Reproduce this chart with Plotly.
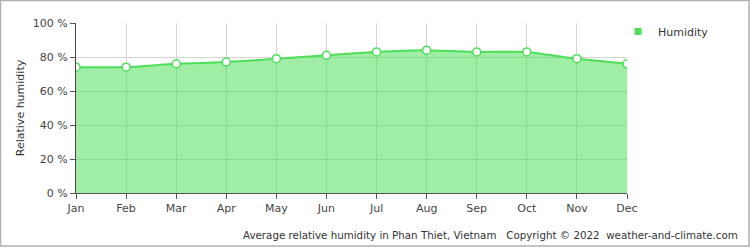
import plotly.graph_objects as go

months = ["Jan", "Feb", "Mar", "Apr", "May", "Jun", "Jul", "Aug", "Sep", "Oct", "Nov", "Dec"]
humidity = [74, 74, 76, 77, 79, 81, 83, 84, 83, 83, 79, 76]
y_ticks = [0, 20, 40, 60, 80, 100]
y_labels = [f"{v} %" for v in y_ticks]

W, H = 750, 247
L, R, T, B = 76, 123, 23, 54
pw, ph = W - L - R, H - T - B

font = dict(family="DejaVu Sans, Verdana, sans-serif", size=10, color="#444")

fig = go.Figure()
fig.add_trace(go.Scatter(
    x=months, y=humidity, name="Humidity",
    mode="lines+markers", fill="tozeroy",
    fillcolor="rgba(76,223,87,0.53)",
    line=dict(color="#4cdf57", width=2, shape="spline", smoothing=0.4),
    marker=dict(size=8, color="white", line=dict(color="#4cdf57", width=1.5)),
    showlegend=False,
))
# legend entry
fig.add_trace(go.Scatter(
    x=[None], y=[None], name="Humidity", mode="markers",
    marker=dict(symbol="square", size=7, color="#4cdf57"),
))

fig.update_layout(
    width=W, height=H,
    margin=dict(l=L, r=R, t=T, b=B),
    paper_bgcolor="white", plot_bgcolor="white",
    font=font,
    showlegend=True,
    legend=dict(x=-9 / pw + 1, y=1 + 6 / ph, xanchor="left", yanchor="top",
                font=dict(size=11, color="#333"), bgcolor="rgba(0,0,0,0)",
                itemwidth=30, tracegroupgap=0),
    xaxis=dict(type="category", range=[0, 11], showgrid=True, gridcolor="#d4d4d4",
               tickmode="array", tickvals=months, ticktext=months,
               ticks="outside", ticklen=5, tickcolor="#555",
               showline=True, linecolor="#555", linewidth=1,
               tickfont=dict(size=11, color="#444"), zeroline=False),
    yaxis=dict(range=[0, 100], tickmode="array", tickvals=y_ticks, ticktext=y_labels,
               showgrid=True, gridcolor="#d4d4d4",
               ticks="outside", ticklen=5, tickcolor="#555",
               showline=True, linecolor="#444", linewidth=1,
               tickfont=dict(size=11, color="#444"), zeroline=False,
               title=dict(text="Relative humidity", font=dict(size=11, color="#333"), standoff=5)),
    shapes=[dict(type="rect", xref="paper", yref="paper",
                 x0=-L / pw + 0.5 / pw, x1=1 + (R - 1) / pw,
                 y0=-B / ph + 1 / ph, y1=1 + (T - 0.5) / ph,
                 line=dict(color="#b0b0b0", width=1.5), fillcolor="rgba(0,0,0,0)", layer="above")],
    annotations=[dict(text="Average relative humidity in Phan Thiet, Vietnam   Copyright © 2022  weather-and-climate.com",
                      xref="paper", yref="paper", x=1 + (R - 10) / pw, y=-42 / ph,
                      xanchor="right", yanchor="middle", showarrow=False,
                      font=dict(size=10.3, color="#333"))],
)

fig.write_html("out.html")
